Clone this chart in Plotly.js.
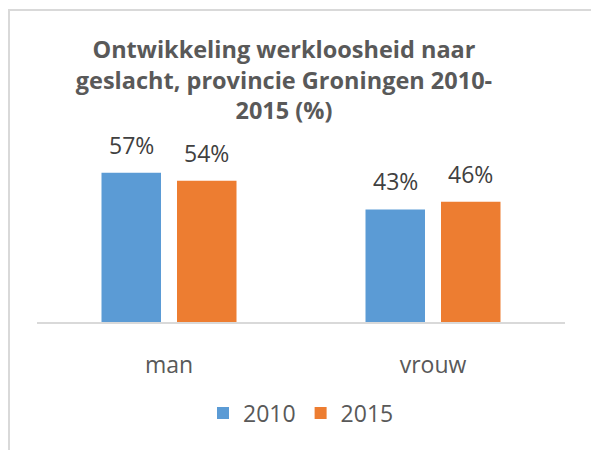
<!DOCTYPE html>
<html>
<head>
<meta charset="utf-8">
<script src="https://cdn.plot.ly/plotly-3.0.1.min.js"></script>
<style>
  html, body { margin: 0; padding: 0; background: #ffffff; }
  #wrap { position: relative; width: 591px; height: 450px; overflow: hidden; }
  #chart { position: absolute; left: 0; top: 0; width: 591px; height: 450px; }
  #frame { position: absolute; left: 8px; top: 9px; width: 700px; height: 600px;
           border-left: 2px solid #d9d9d9; border-top: 2px solid #d9d9d9;
           pointer-events: none; box-sizing: border-box; }
</style>
</head>
<body>
<div id="wrap">
  <div id="chart"></div>
  <div id="frame"></div>
</div>
<script>
const categories = ['man', 'vrouw'];
const seriesNames = ['2010', '2015'];
const values2010 = [0.57, 0.43];
const values2015 = [0.54, 0.46];
const seriesColors = ['#5b9bd5', '#ed7d31'];
const titleText = 'Ontwikkeling werkloosheid naar<br>geslacht, provincie Groningen 2010-<br>2015 (%)';

const FONT = 'Open Sans, Noto Sans, sans-serif';
const allValues = [values2010, values2015];

const traces = allValues.map((vals, i) => ({
  type: 'bar',
  name: seriesNames[i],
  x: categories,
  y: vals,
  marker: { color: seriesColors[i], line: { width: 0 } },
  hoverinfo: 'none'
}));

// data labels as annotations above each bar
const annotations = [];
const offsets = [-37.75, 37.75];
allValues.forEach((vals, i) => {
  vals.forEach((v, j) => {
    annotations.push({
      x: categories[j], y: v, xref: 'x', yref: 'y',
      text: Math.round(v * 100) + '%',
      showarrow: false, xanchor: 'center', yanchor: 'bottom',
      xshift: offsets[i], yshift: 10,
      font: { family: FONT, size: 23, color: '#404040' }
    });
  });
});

const layout = {
  width: 591, height: 450,
  paper_bgcolor: '#ffffff', plot_bgcolor: '#ffffff',
  margin: { l: 37, r: 26, t: 165, b: 128 },
  barmode: 'group',
  bargap: 0.428,
  bargroupgap: 0.212,
  title: {
    text: titleText,
    x: 0.4805, xref: 'container', xanchor: 'center',
    y: 0.871, yref: 'container', yanchor: 'top',
    font: { family: FONT, size: 23.5, weight: 'bold', color: '#595959' }
  },
  xaxis: {
    type: 'category',
    showline: true, linecolor: '#d9d9d9', linewidth: 2,
    showgrid: false, zeroline: false, ticks: '',
    ticklabelstandoff: 21,
    tickfont: { family: FONT, size: 23, color: '#595959' },
    fixedrange: true
  },
  yaxis: {
    range: [0, 0.6],
    showticklabels: false, showgrid: false, zeroline: false, showline: false,
    ticks: '', fixedrange: true
  },
  showlegend: true,
  legend: {
    orientation: 'h',
    x: 0.5, xanchor: 'center',
    y: 0.082, yref: 'container', yanchor: 'middle',
    font: { family: FONT, size: 23, color: '#595959' },
    bgcolor: 'rgba(0,0,0,0)'
  },
  annotations: annotations
};

Plotly.newPlot('chart', traces, layout, { displayModeBar: false, staticPlot: true });
</script>
</body>
</html>
